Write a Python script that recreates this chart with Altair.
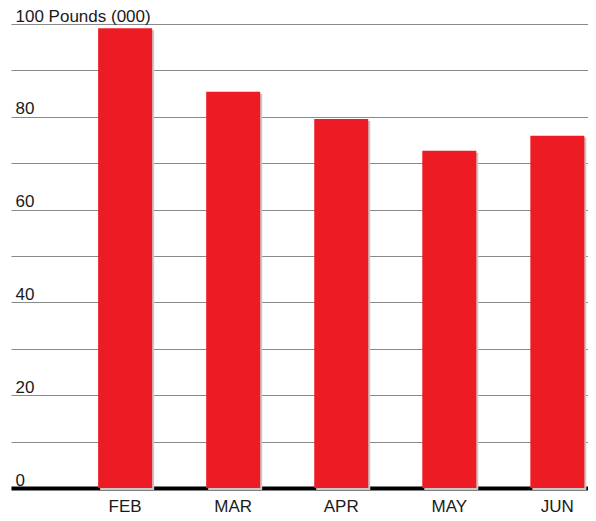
import altair as alt
import pandas as pd

months = ["FEB", "MAR", "APR", "MAY", "JUN"]
values = [99.1, 85.4, 79.5, 72.7, 75.9]
grid_values = [0, 10, 20, 30, 40, 50, 60, 70, 80, 90, 100]

df = pd.DataFrame({"month": months, "value": values})

x_enc = alt.X(
    "month:N",
    sort=months,
    title=None,
    scale=alt.Scale(paddingInner=0.5, paddingOuter=0.42, align=0.96),
    axis=alt.Axis(
        labelAngle=0,
        ticks=False,
        domain=True,
        domainColor="#000000",
        domainWidth=4,
        labelPadding=10,
        labelBaseline="top",
        labelFont="Liberation Sans",
        labelFontSize=17,
        labelColor="#1a1a1a",
        grid=False,
    ),
)

y_enc = alt.Y(
    "value:Q",
    title=None,
    scale=alt.Scale(domain=[0, 100], nice=False),
    axis=alt.Axis(
        values=grid_values,
        ticks=False,
        domain=False,
        grid=True,
        gridColor="#8a8a8a",
        gridWidth=1,
        labelAlign="left",
        labelBaseline="alphabetic",
        labelPadding=-4,
        labelOffset=-3,
        labelFont="Liberation Sans",
        labelFontSize=17,
        labelColor="#1a1a1a",
        labelExpr="datum.value % 20 == 0 ? (datum.value == 100 ? '100 Pounds (000)' : datum.label) : ''",
        labelOverlap=False,
        labelBound=False,
        labelFlush=False,
    ),
)

shadow = alt.Chart(df).mark_bar(color="#c8c8c8", xOffset=2, yOffset=2).encode(
    x=x_enc, y=y_enc
)
bars = alt.Chart(df).mark_bar(color="#ed1c24").encode(x=x_enc, y=y_enc)

chart = (
    alt.layer(shadow, bars)
    .properties(
        width=577,
        height=464,
        padding={"left": 3, "top": 16, "right": 0, "bottom": 30},
        autosize=alt.AutoSizeParams(type="none"),
        background="#ffffff",
    )
    .configure_view(stroke=None)
)

chart.save("out.html", embed_options={"renderer": "svg", "actions": False})
